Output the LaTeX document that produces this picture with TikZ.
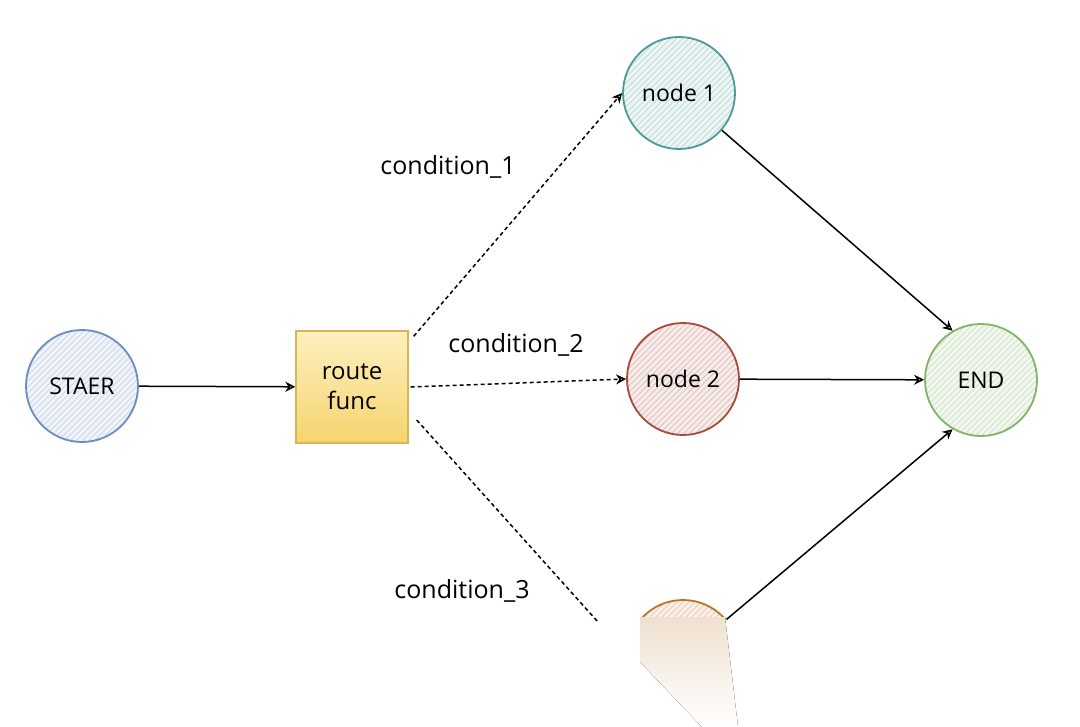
\documentclass[tikz,border=0pt]{standalone}
\usepackage{fontspec}
\setmainfont{Open Sans}
\usepackage{xcolor}
\usetikzlibrary{arrows.meta, patterns, shadings, positioning}

\definecolor{staercol}{HTML}{6C8EBF}
\definecolor{onecol}{HTML}{4E9A9A}
\definecolor{twocol}{HTML}{A84A3C}
\definecolor{endcol}{HTML}{82B366}
\definecolor{threecol}{HTML}{B8772A}
\definecolor{funcedge}{HTML}{D6B656}

\begin{document}
\begin{tikzpicture}[x=0.5pt, y=-0.5pt,
    >={Stealth[open, length=5pt, width=5pt]},
    state/.style={circle, minimum size=56pt, inner sep=0pt, line width=0.9pt,
        draw=#1, preaction={fill=#1!10}, pattern=north east lines, pattern color=#1!35,
        font=\fontsize{11.5}{13}\selectfont},
    funcbox/.style={rectangle, minimum size=56pt, inner sep=0pt, line width=0.7pt,
        draw=funcedge, top color={rgb,255:red,253;green,240;blue,190},
        bottom color={rgb,255:red,246;green,212;blue,112}, align=center,
        font=\fontsize{12}{15}\selectfont},
    link/.style={->, line width=0.75pt},
    cond/.style={line width=0.75pt, dash pattern=on 2pt off 1.5pt},
    lbl/.style={font=\fontsize{12.5}{14}\selectfont}]
    % 1. Khung
    \useasboundingbox (0,0) rectangle (1080,727);

    % 2. Các nút
    \node[state=staercol] (st) at (82,386) {STAER};
    \node[funcbox] (rf) at (352,387) {route\\func};
    \node[state=onecol] (n1) at (679,93) {node 1};
    \node[state=twocol] (n2) at (683,379) {node 2};
    \node[state=endcol] (end) at (981,380) {END};
    \begin{scope}
        \clip (600,560) rectangle (780,618);
        \node[state=threecol] (n3) at (683,656) {};
    \end{scope}
    \fill[top color=threecol!22, bottom color=white, draw=none]
        (640,617) -- (725,617) -- (738,727) -- (702,727) -- (640,662) -- cycle;
    \coordinate (c3) at (598,622);

    % 3. Nhãn điều kiện
    \node[lbl] (l1) at (448,167) {condition\_1};
    \node[lbl] (l2) at (516,345) {condition\_2};
    \node[lbl] (l3) at (462,591) {condition\_3};

    % 4. Các cạnh
    \draw[link] (st) -- (rf);
    \draw[cond, ->] ([shift={(5,6)}]rf.north east) -- (n1.west);
    \draw[cond, ->] ([xshift=1pt]rf.east) -- (n2.west);
    \draw[cond] ([shift={(8,33)}]rf.east) -- (c3);
    \draw[link] (n1) -- (end.120);
    \draw[link] (n2) -- (end);
    \draw[link] (n3) -- (end.240);
\end{tikzpicture}
\end{document}
